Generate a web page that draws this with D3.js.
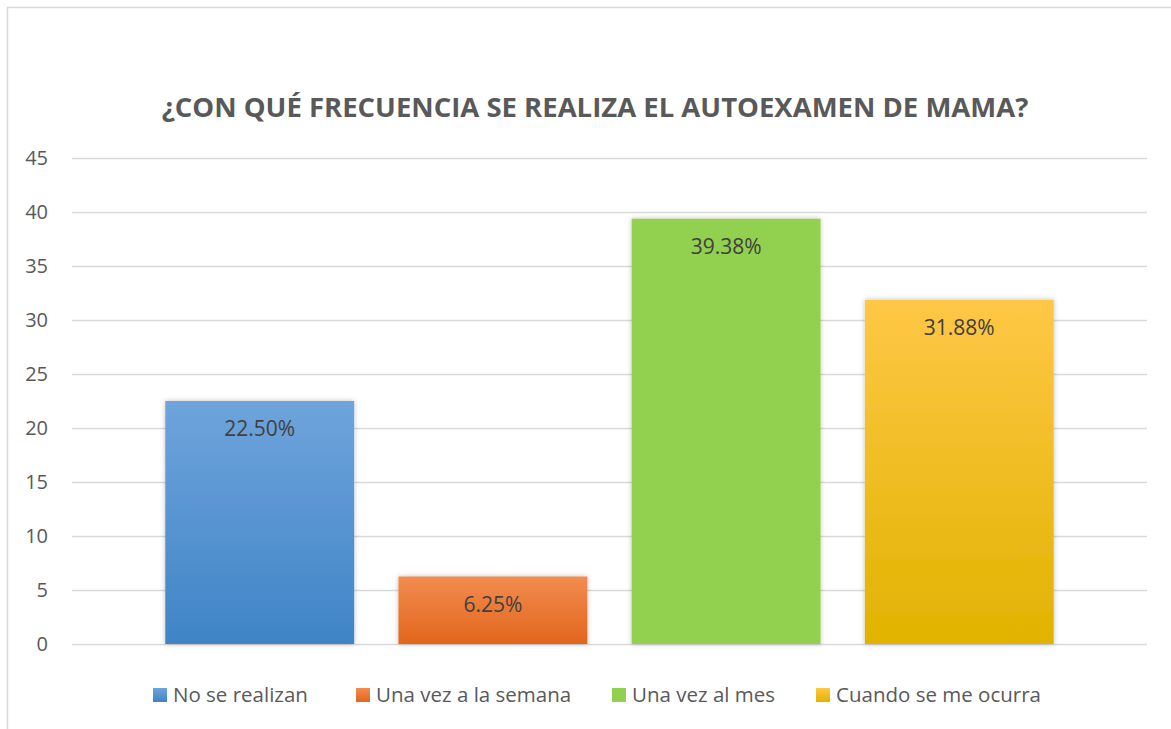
<!DOCTYPE html>
<head>
  <meta charset="utf-8">
  <title>Autoexamen de mama</title>
</head>
<style>
  body { margin: 0; background: #fff; }
  svg { display: block; font-family: "Open Sans", "Noto Sans", sans-serif; }
  .grid line { stroke: #d9d9d9; stroke-width: 1.3; }
  .tick-label { fill: #595959; font-size: 20px; }
  .title { fill: #595959; font-size: 27.5px; font-weight: bold; }
  .value { fill: #404040; font-size: 21px; text-anchor: middle; }
  .legend text { fill: #595959; font-size: 20.5px; }
</style>
<svg width="1171" height="729"></svg>
<script src="https://d3js.org/d3.v7.min.js"></script>
<script>
  // data
  var series = ["No se realizan", "Una vez a la semana", "Una vez al mes", "Cuando se me ocurra"];
  var values = [22.5, 6.25, 39.38, 31.88];
  var labels = ["22.50%", "6.25%", "39.38%", "31.88%"];
  var yTicks = [0, 5, 10, 15, 20, 25, 30, 35, 40, 45];
  var title = "¿CON QUÉ FRECUENCIA SE REALIZA EL AUTOEXAMEN DE MAMA?";

  // top / bottom gradient colours for each series
  var colorTop = ["#6fa4dc", "#f28c50", "#92d050", "#ffc746"];
  var colorBottom = ["#3f84c6", "#e2661c", "#92d050", "#e1b300"];

  var svg = d3.select("svg"),
    width = +svg.attr("width"),
    height = +svg.attr("height");

  var plot = { left: 72, right: 1147, top: 158, bottom: 644 };

  // chart frame (only top and left edges are inside the picture)
  svg.append("path")
    .attr("d", "M7.5," + height + "V7.5H" + width)
    .attr("fill", "none")
    .attr("stroke", "#d9d9d9")
    .attr("stroke-width", 1.5);

  var defs = svg.append("defs");
  series.forEach(function (s, i) {
    var lg = defs.append("linearGradient")
      .attr("id", "grad" + i)
      .attr("x1", 0).attr("y1", 0).attr("x2", 0).attr("y2", 1);
    lg.append("stop").attr("offset", "0%").attr("stop-color", colorTop[i]);
    lg.append("stop").attr("offset", "100%").attr("stop-color", colorBottom[i]);
  });
  var f = defs.append("filter").attr("id", "shadow")
    .attr("x", "-10%").attr("y", "-10%").attr("width", "120%").attr("height", "120%");
  f.append("feDropShadow").attr("dx", 0).attr("dy", 0).attr("stdDeviation", 2.5)
    .attr("flood-color", "#000").attr("flood-opacity", 0.25);

  var y = d3.scaleLinear().domain([0, 45]).range([plot.bottom, plot.top]);
  var x = d3.scaleBand().domain(series).range([plot.left, plot.right])
    .paddingInner(0.19).paddingOuter(0.4);

  var grid = svg.append("g").attr("class", "grid");
  grid.selectAll("line")
    .data(yTicks)
    .enter().append("line")
    .attr("x1", plot.left).attr("x2", plot.right)
    .attr("y1", function (d) { return Math.round(y(d)) + 0.5; })
    .attr("y2", function (d) { return Math.round(y(d)) + 0.5; });

  svg.append("g").selectAll("text")
    .data(yTicks)
    .enter().append("text")
    .attr("class", "tick-label")
    .attr("x", 48)
    .attr("y", function (d) { return y(d); })
    .attr("dy", "0.35em")
    .attr("text-anchor", "end")
    .text(function (d) { return d; });

  svg.append("text")
    .attr("class", "title")
    .attr("x", 595)
    .attr("y", 117)
    .attr("text-anchor", "middle")
    .text(title);

  var bars = svg.append("g").selectAll("g")
    .data(series)
    .enter().append("g");

  bars.append("rect")
    .attr("x", function (d) { return x(d); })
    .attr("width", x.bandwidth())
    .attr("y", function (d, i) { return y(values[i]); })
    .attr("height", function (d, i) { return y(0) - y(values[i]); })
    .attr("fill", function (d, i) { return "url(#grad" + i + ")"; })
    .attr("filter", "url(#shadow)");

  bars.append("text")
    .attr("class", "value")
    .attr("x", function (d) { return x(d) + x.bandwidth() / 2; })
    .attr("y", function (d, i) { return y(values[i]) + 28; })
    .attr("dy", "0.35em")
    .text(function (d, i) { return labels[i]; });

  // legend
  var legendX = [152, 355, 611, 815];
  var legend = svg.append("g").attr("class", "legend").selectAll("g")
    .data(series)
    .enter().append("g")
    .attr("transform", function (d, i) { return "translate(" + legendX[i] + ",695)"; });

  legend.append("rect")
    .attr("x", 1).attr("y", -7).attr("width", 14).attr("height", 14)
    .attr("fill", function (d, i) { return "url(#grad" + i + ")"; });

  legend.append("text")
    .attr("x", 21)
    .attr("dy", "0.35em")
    .text(function (d) { return d; });
</script>
